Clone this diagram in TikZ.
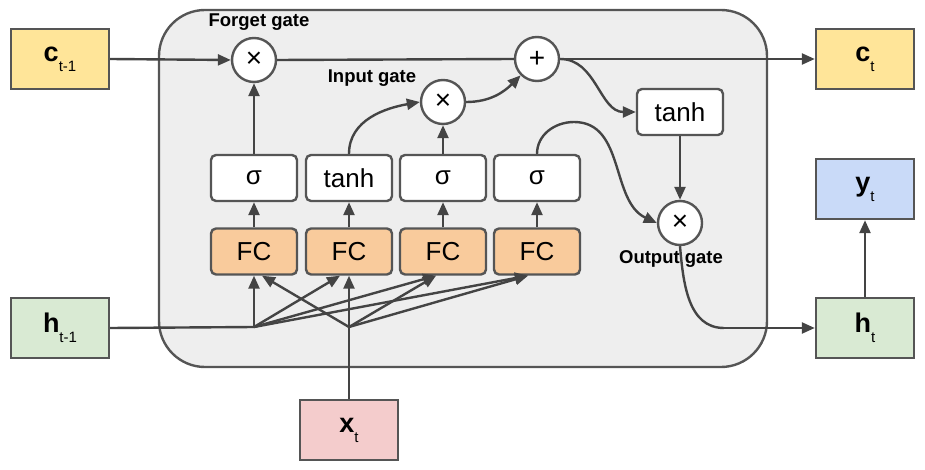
\documentclass[tikz,border=0pt]{standalone}
\usepackage{fontspec}
\setmainfont{Liberation Sans}
\usetikzlibrary{arrows.meta,calc}
\definecolor{ln}{HTML}{444444}
\definecolor{bd}{HTML}{555555}
\definecolor{yel}{HTML}{FFE599}
\definecolor{grn}{HTML}{D9EAD3}
\definecolor{rd}{HTML}{F4CCCC}
\definecolor{blu}{HTML}{C9DAF8}
\definecolor{org}{HTML}{F9CB9C}
\definecolor{cell}{HTML}{EEEEEE}
\newcommand{\vlab}[2]{{\fontsize{27}{27}\selectfont\bfseries #1}\raisebox{-10pt}{\fontsize{15}{15}\selectfont #2}}
\tikzset{
  iobox/.style={draw=bd,line width=2.4pt,minimum width=98pt,minimum height=60pt,inner sep=0pt},
  opbox/.style={draw=bd,line width=2.4pt,rounded corners=5pt,minimum width=86pt,minimum height=46pt,inner sep=0pt,fill=white,font=\fontsize{26}{26}\selectfont},
  fcbox/.style={opbox,fill=org},
  gate/.style={circle,draw=bd,line width=2.4pt,fill=white,minimum size=44pt,inner sep=0pt,font=\fontsize{28}{28}\selectfont},
  glabel/.style={font=\fontsize{18.5}{18.5}\selectfont\bfseries,inner sep=0pt},
  arr/.style={draw=ln,line width=2.4pt,-{Triangle[length=13pt,width=11pt]}},
  ln/.style={draw=ln,line width=2.4pt}
}
\begin{document}
\begin{tikzpicture}[x=1pt,y=1pt]
\useasboundingbox (0,0) rectangle (925,-470);
% cell body
\draw[draw=bd,line width=2.4pt,fill=cell,rounded corners=46pt] (159,-10) rectangle (767,-367);
% inputs / outputs
\node[iobox,fill=yel] (ctm1) at (60,-59) {\vlab{c}{t-1}};
\node[iobox,fill=yel] (ct) at (865,-59) {\vlab{c}{t}};
\node[iobox,fill=blu] (yt) at (865,-189) {\vlab{y}{t}};
\node[iobox,fill=grn] (ht) at (865,-328) {\vlab{h}{t}};
\node[iobox,fill=grn] (htm1) at (60,-328) {\vlab{h}{t-1}};
\node[iobox,fill=rd] (xt) at (349,-430) {\vlab{x}{t}};
% gates
\node[gate] (fx) at (254,-60) {×};
\node[gate] (plus) at (537,-59) {+};
\node[gate] (ix) at (443,-102) {×};
\node[gate] (ox) at (680,-223) {×};
\node[glabel] (fl) at (259,-22) {Forget gate};
\node[glabel] (il) at (372,-78) {Input gate};
\node[glabel] (ol) at (671,-259) {Output gate};
% activations
\node[opbox] (tr) at (680,-112) {tanh};
\node[opbox] (s1) at (254,-178) {σ};
\node[opbox] (s2) at (349,-178) {tanh};
\node[opbox] (s3) at (443,-178) {σ};
\node[opbox] (s4) at (537,-178) {σ};
\node[fcbox] (f1) at (254,-251.5) {FC};
\node[fcbox] (f2) at (349,-251.5) {FC};
\node[fcbox] (f3) at (443,-251.5) {FC};
\node[fcbox] (f4) at (537,-251.5) {FC};
\coordinate (jh) at (254,-327);
\coordinate (jx) at (349,-327);
\coordinate (pk) at (574,-122);
\coordinate (hc) at (724,-328);
% connections
\draw[arr] (ctm1.east) -- (fx.west);
\draw[ln] (fx.east) -- (plus.west);
\draw[arr] (plus.east) -- (ct.west);
\draw[arr] (s1.north) -- (fx.south);
\draw[arr] (s3.north) -- (ix.south);
\draw[arr] (tr.south) -- (ox.north);
\draw[arr] (s2.north) to[out=90,in=190] (ix.west);
\draw[arr] (ix.east) to[out=0,in=225] (plus.south west);
\draw[arr] (plus.east) to[out=0,in=180] (tr.west);
\draw[arr] (s4.north) to[out=90,in=180] (pk) to[out=0,in=155] (ox.west);
\draw[ln] (ox.south) to[out=-85,in=180] (hc);
\draw[arr] (hc) -- (ht.west);
\draw[arr] (ht.north) -- (yt.south);
\foreach \i in {1,2,3,4} \draw[arr] (f\i.north) -- (s\i.south);
% inputs to FC layers
\draw[ln] (htm1.east) -- (jh);
\draw[arr] (xt.north) -- (f2.south);
\draw[arr] (jh) -- (f1.south);
\draw[arr] (jh) -- ($(f2.south)+(-9,0)$);
\draw[arr] (jh) -- ($(f3.south)+(-7,0)$);
\draw[arr] (jh) -- ($(f4.south)+(-9,0)$);
\draw[arr] (jx) -- ($(f1.south)+(8,0)$);
\draw[arr] (jx) -- ($(f3.south)+(-7,0)$);
\draw[arr] (jx) -- ($(f4.south)+(-9,0)$);
\end{tikzpicture}
\end{document}
